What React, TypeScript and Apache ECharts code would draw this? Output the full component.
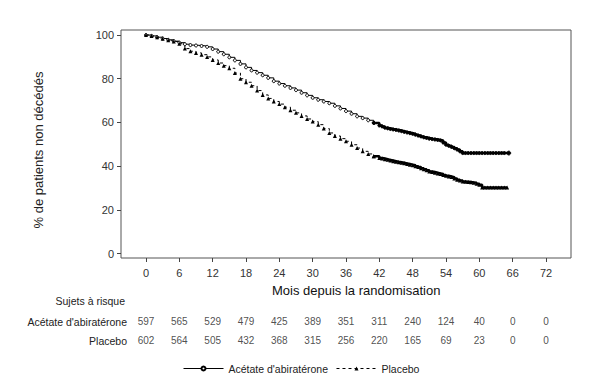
import React, { useEffect, useRef } from "react";
import * as echarts from "echarts";

const FONT = "Liberation Sans, Arial, sans-serif";

const xTicks = [0, 6, 12, 18, 24, 30, 36, 42, 48, 54, 60, 66, 72];
const yTicks = [0, 20, 40, 60, 80, 100];

const abiMonths = [0, 1, 2, 3, 4, 5, 6, 7, 8, 9, 10, 11, 12, 13, 14, 15, 16, 17, 18, 19, 20, 21, 22, 23, 24, 25, 26, 27, 28, 29, 30, 31, 32, 33, 34, 35, 36, 37, 38, 39, 40, 41, 42, 42.5, 43, 43.5, 44, 44.5, 45, 45.5, 46, 46.5, 47, 47.5, 48, 48.5, 49, 49.5, 50, 50.5, 51, 51.5, 52, 52.5, 53, 53.5, 54, 54.5, 55, 55.5, 56, 56.5, 57, 57.5, 58, 58.5, 59, 59.5, 60, 60.5, 61, 61.5, 62, 62.5, 63, 63.5, 64, 64.5, 65.3];
const abiSurv = [100, 99.6, 99, 98.4, 97.8, 97.2, 96.5, 95.8, 95.4, 95.2, 95, 94.6, 93.6, 92.4, 91.2, 89.8, 88.4, 86.8, 85.2, 83.8, 82.8, 81.6, 80.4, 78.9, 77.8, 76.8, 75.8, 74.8, 73.6, 72.4, 71.3, 70.4, 69.6, 68.8, 67.6, 66.4, 65.2, 64, 62.8, 62, 61, 59.8, 58.6, 58.2, 57.6, 57.3, 57, 56.8, 56.6, 56.3, 56, 55.7, 55.4, 55.1, 54.8, 54.4, 54, 53.6, 53.2, 52.9, 52.6, 52.4, 52.2, 52, 51.8, 50.8, 49.8, 49.3, 48.8, 48.2, 47.6, 46.8, 46, 46, 46, 46, 46, 46, 46, 46, 46, 46, 46, 46, 46, 46, 46, 46, 46];

const plaMonths = [0, 1, 2, 3, 4, 5, 6, 7, 8, 9, 10, 11, 12, 13, 14, 15, 16, 17, 18, 19, 20, 21, 22, 23, 24, 25, 26, 27, 28, 29, 30, 31, 32, 33, 34, 35, 36, 37, 38, 39, 40, 41, 42, 42.5, 43, 43.5, 44, 44.5, 45, 45.5, 46, 46.5, 47, 47.5, 48, 48.5, 49, 49.5, 50, 50.5, 51, 51.5, 52, 52.5, 53, 53.5, 54, 54.5, 55, 55.5, 56, 56.5, 57, 57.5, 58, 58.5, 59, 59.5, 60, 60.5, 61, 61.5, 62, 62.5, 63, 63.5, 64, 64.5, 65];
const plaSurv = [100, 99.5, 99, 98.3, 97.6, 97, 96, 93.8, 92.6, 91.8, 91, 90, 88.6, 87.2, 86, 84.8, 82.6, 80, 78.4, 76.8, 74.6, 72.6, 71, 69.6, 68.4, 67, 65.6, 64.4, 63, 61.6, 60.4, 59, 57.2, 55.2, 53.8, 52.6, 51.4, 49.8, 48.3, 46.8, 45.6, 44.6, 43.8, 43.5, 43.2, 42.9, 42.6, 42.3, 42, 41.8, 41.6, 41.3, 41, 40.7, 40.4, 40, 39.6, 39.1, 38.6, 38.1, 37.6, 37.3, 37, 36.7, 36.4, 36, 35.6, 35.3, 35, 34.4, 33.8, 33.4, 33, 32.9, 32.8, 32.6, 32.4, 32, 31.5, 30.2, 30.2, 30.2, 30.2, 30.2, 30.2, 30.2, 30.2, 30.2, 30.2];

const riskMonths = [0, 6, 12, 18, 24, 30, 36, 42, 48, 54, 60, 66, 72];
const riskRows = ["Acétate d'abiratérone", "Placebo"];
const abiRisk = [597, 565, 529, 479, 425, 389, 351, 311, 240, 124, 40, 0, 0];
const placeboRisk = [602, 564, 505, 432, 368, 315, 256, 220, 165, 69, 23, 0, 0];

const DENSE_FROM = 41;

export default function App() {
  const ref = useRef<HTMLDivElement>(null);
  useEffect(() => {
    if (!ref.current) return;
    const chart = echarts.init(ref.current, null, { renderer: "svg" });
    const abiData = abiMonths.map((m, i) => [m, abiSurv[i]]);
    const plaData = plaMonths.map((m, i) => [m, plaSurv[i]]);
    const abiEarly = abiData.filter((d) => d[0] <= DENSE_FROM);
    const abiTail = abiData.filter((d) => d[0] >= DENSE_FROM);
    const plaEarly = plaData.filter((d) => d[0] <= DENSE_FROM);
    const plaTail = plaData.filter((d) => d[0] >= DENSE_FROM);
    const riskData: any[] = [];
    abiRisk.forEach((v, i) => riskData.push([riskMonths[i], 0, v]));
    placeboRisk.forEach((v, i) => riskData.push([riskMonths[i], 1, v]));
    const rowY = [321.7, 341];
    chart.setOption({
      animation: false,
      backgroundColor: "#ffffff",
      textStyle: { fontFamily: FONT },
      grid: [
        { left: 121, top: 30, right: 33, bottom: 125, show: true, borderColor: "#555", borderWidth: 1, backgroundColor: "transparent" },
        { left: 121, right: 33, top: 312, height: 38.6 },
      ],
      xAxis: [
        {
          type: "value", gridIndex: 0, min: -4.5, max: 76.5,
          axisLine: { show: false, onZero: false },
          axisTick: { show: true, inside: false, length: 4, lineStyle: { color: "#444" }, customValues: xTicks },
          axisLabel: { customValues: xTicks, fontSize: 11, color: "#333", margin: 9, fontFamily: FONT },
          splitLine: { show: false },
        },
        {
          type: "value", gridIndex: 1, min: -4.5, max: 76.5,
          axisLine: { show: false }, axisTick: { show: false }, axisLabel: { show: false }, splitLine: { show: false },
        },
      ],
      yAxis: [
        {
          type: "value", gridIndex: 0, min: -2, max: 102.3,
          axisLine: { show: false, onZero: false },
          axisTick: { show: true, inside: false, length: 4, lineStyle: { color: "#444" }, customValues: yTicks },
          axisLabel: { customValues: yTicks, fontSize: 11, color: "#333", margin: 7, fontFamily: FONT },
          splitLine: { show: false },
        },
        {
          type: "category", gridIndex: 1, data: riskRows, inverse: true,
          axisLine: { show: false }, axisTick: { show: false }, axisLabel: { show: false },
          splitLine: { show: false },
        },
      ],
      legend: {
        left: 178, top: 358, itemWidth: 40, itemHeight: 5, itemGap: 8,
        lineStyle: { width: 1 },
        textStyle: { fontSize: 10.5, color: "#222", fontFamily: FONT },
        data: ["Acétate d'abiratérone", "Placebo"],
      },
      series: [
        {
          name: "Acétate d'abiratérone", type: "line", xAxisIndex: 0, yAxisIndex: 0,
          data: abiEarly, step: "end", symbol: "circle", symbolSize: 3,
          showAllSymbol: true,
          lineStyle: { color: "#000", width: 1, type: "solid" },
          itemStyle: { color: "#fff", borderColor: "#000", borderWidth: 1 },
        },
        {
          type: "line", xAxisIndex: 0, yAxisIndex: 0,
          data: abiTail, step: "end", symbol: "circle", symbolSize: 3,
          showAllSymbol: true,
          lineStyle: { color: "#000", width: 2.5 },
          itemStyle: { color: "#000", borderColor: "#000", borderWidth: 1 },
        },
        {
          type: "scatter", xAxisIndex: 0, yAxisIndex: 0,
          data: abiData.slice(-1), symbol: "circle", symbolSize: 4,
          itemStyle: { color: "#fff", borderColor: "#000", borderWidth: 1 },
        },
        {
          name: "Placebo", type: "line", xAxisIndex: 0, yAxisIndex: 0,
          data: plaEarly, step: "end", symbol: "triangle", symbolSize: 4,
          showAllSymbol: true,
          lineStyle: { color: "#000", width: 1, type: [3, 3] },
          itemStyle: { color: "#000" },
        },
        {
          type: "line", xAxisIndex: 0, yAxisIndex: 0,
          data: plaTail, step: "end", symbol: "triangle", symbolSize: 4,
          showAllSymbol: true,
          lineStyle: { color: "#000", width: 2.5 },
          itemStyle: { color: "#000" },
        },
        {
          type: "scatter", xAxisIndex: 1, yAxisIndex: 1, data: riskData,
          symbolSize: 1, itemStyle: { color: "transparent" }, silent: true,
          label: { show: true, position: "inside", formatter: (p: any) => String(p.value[2]), fontSize: 10, color: "#222", fontFamily: FONT },
        },
      ],
      graphic: [
        { type: "text", x: 272, y: 290, style: { text: "Mois depuis la randomisation", fontSize: 13, fill: "#111", fontFamily: FONT, verticalAlign: "middle" } },
        { type: "text", x: 38, y: 150, rotation: Math.PI / 2, style: { text: "% de patients non décédés", fontSize: 13, fill: "#222", fontFamily: FONT, align: "center", verticalAlign: "middle" } },
        { type: "text", x: 125, y: 300.7, style: { text: "Sujets à risque", fontSize: 10.5, fill: "#222", fontFamily: FONT, align: "right", verticalAlign: "middle" } },
        ...riskRows.map((r, i) => ({ type: "text", x: 127, y: rowY[i], style: { text: r, fontSize: 10.5, fill: "#222", fontFamily: FONT, align: "right", verticalAlign: "middle" } })),
      ],
    });
    return () => chart.dispose();
  }, []);
  return <div ref={ref} style={{ width: 604, height: 383, position: "absolute", left: 0, top: 0 }} />;
}
